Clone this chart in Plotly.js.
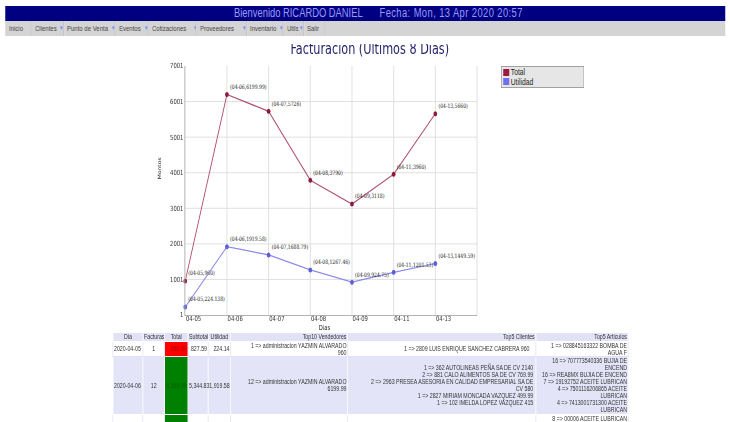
<!DOCTYPE html>
<html><head><meta charset="utf-8">
<script src="https://cdn.plot.ly/plotly-3.0.1.min.js"></script>
<style>
html,body{margin:0;padding:0;background:#fff;overflow:hidden;width:730px;height:422px;}
#wrap{position:absolute;left:0;top:0;width:974px;height:422px;transform:scaleX(0.75);transform-origin:0 0;font-family:"Liberation Sans",Arial,sans-serif;overflow:hidden;}
#navy{position:absolute;left:7px;top:6px;width:960px;height:14.5px;background:#000080;}
.hdr{position:absolute;top:6px;height:14.5px;line-height:14.5px;font-size:12.5px;color:#9a9aff;white-space:pre;}
#menu{position:absolute;left:7px;top:20.5px;width:960px;height:15px;background:#d4d4d4;}
.mi{position:absolute;top:0;height:15px;line-height:15px;font-size:8px;color:#444;white-space:nowrap;overflow:hidden;}
.ar{position:absolute;top:0;height:15px;line-height:15px;font-size:6px;color:#6f8fff;}
.sep{position:absolute;top:0;width:1px;height:15px;background:#b8b8b8;border-right:1px solid #ececec;}
#plot{position:absolute;left:0;top:44px;width:974px;height:378px;}
#leg{position:absolute;left:668px;top:66px;width:111px;height:22px;background:#e6e6e6;border:1px solid #a0a0a0;box-sizing:border-box;padding-top:1px;font-size:9px;line-height:9.6px;color:#222;}
#leg .li{height:9.6px;white-space:nowrap;}
#leg .sq{display:inline-block;width:8px;height:7px;margin:0 2px 0 2px;vertical-align:-0.5px;}
#tb{position:absolute;left:150px;top:332px;width:687px;table-layout:fixed;border-collapse:collapse;font-size:7px;line-height:7.1px;color:#333;}
#tb td,#tb th{padding:0 1px;overflow:visible;white-space:nowrap;font-weight:normal;vertical-align:middle;}
#tb tr.h th{background:#e2e2f6;height:7.5px;border:1px solid #fff;}
#tb tr.r1 td{background:#fff;height:13px;border:1px solid #e2e2f6;}
#tb tr.r2 td{background:#e4e4f8;height:57px;border:1px solid #fff;}
#tb tr.r3 td{background:#fff;height:20px;border:1px solid #e2e2f6;vertical-align:top;}
.c{text-align:center}.r{text-align:right}.l{text-align:left}
#tb td.red{background:#ff0000 !important;color:#b00000;}
#tb td.grn{background:#008000 !important;color:#005c00;}
</style>
</head><body>
<div id="wrap">
  <div id="navy"></div>
  <div class="hdr" style="left:312px">Bienvenido RICARDO DANIEL</div>
  <div class="hdr" style="left:506px;letter-spacing:0.55px">Fecha: Mon, 13 Apr 2020 20:57</div>
  <div id="menu"></div>
  <div id="plot"></div>
  <div id="leg">
    <div class="li"><span class="sq" style="background:#9b1b40"></span>Total</div>
    <div class="li"><span class="sq" style="background:#6f6fef"></span>Utilidad</div>
  </div>
  <table id="tb">
    <colgroup><col style="width:40px"><col style="width:29px"><col style="width:31px"><col style="width:27px"><col style="width:30px"><col style="width:156px"><col style="width:251px"><col style="width:123px"></colgroup>
    <tr class="h"><th class="c">Dia</th><th class="c">Facturas</th><th class="c">Total</th><th class="c">Subtotal</th><th class="c">Utilidad</th><th class="r">Top10 Vendedores</th><th class="r">Top5 Clientes</th><th class="r">Top5 Articulos</th></tr>
    <tr class="r1"><td class="l">2020-04-05</td><td class="c">1</td><td class="r red">960.00</td><td class="r">827.59</td><td class="r">224.14</td><td class="r">1 =&gt; administracion YAZMIN ALVARADO<br>960</td><td class="r" style="padding-right:8px">1 =&gt; 2809 LUIS ENRIQUE SANCHEZ CABRERA 960</td><td class="r">1 =&gt; 028845163322 BOMBA DE<br>AGUA F</td></tr>
    <tr class="r2"><td class="l">2020-04-06</td><td class="c">12</td><td class="r grn">6,199.99</td><td class="r">5,344.83</td><td class="r">1,919.58</td><td class="r">12 =&gt; administracion YAZMIN ALVARADO<br>6199.99</td><td class="r" style="padding-right:3px">1 =&gt; 362 AUTOLINEAS PEÑA SA DE CV 2140<br>2 =&gt; 881 CALO ALIMENTOS SA DE CV 769.99<br>2 =&gt; 2963 PRESEA ASESORIA EN CALIDAD EMPRESARIAL SA DE<br>CV 580<br>1 =&gt; 2827 MIRIAM MONCADA VAZQUEZ 499.99<br>1 =&gt; 102 IMELDA LOPEZ VAZQUEZ 415</td><td class="r">16 =&gt; 707773540336 BUJIA DE<br>ENCEND<br>16 =&gt; REA8MX BUJIA DE ENCEND<br>7 =&gt; 19192752 ACEITE LUBRICAN<br>4 =&gt; 7501116206865 ACEITE<br>LUBRICAN<br>4 =&gt; 7413001731300 ACEITE<br>LUBRICAN</td></tr>
    <tr class="r3"><td></td><td></td><td class="grn"></td><td></td><td></td><td></td><td></td><td class="r">8 =&gt; 00006 ACEITE LUBRICAN<br>4 =&gt; 037795151013 BUJIA NGK</td></tr>
  </table>
</div>
<script>
// ---- chart data ----
const dias = ['04-05', '04-06', '04-07', '04-08', '04-09', '04-11', '04-13'];
const total = [960, 6199.99, 5726, 3790, 3118, 3960, 5660];
const utilidad = [224.138, 1919.58, 1688.79, 1267.46, 924.75, 1201.53, 1449.59];
const serieNames = ['Total', 'Utilidad'];
const yTicks = [1, 1001, 2001, 3001, 4001, 5001, 6001, 7001];

// ---- menu ----
const menuItems = [
  ['Inicio', 12, null, 41.3], ['Clientes', 46.7, 78.7, 84], ['Punto de Venta', 89.3, 148, 153.3],
  ['Eventos', 158.7, 192, 197.3], ['Cotizaciones', 202.7, 257.3, 261.3], ['Proveedores', 266.7, 322.7, 328],
  ['Inventario', 333.3, 372, 377.3], ['Utils', 382.7, 398.7, 404], ['Salir', 409.3, null, 433.3]
];
const menu = document.getElementById('menu');
menuItems.forEach(function (m) {
  const off = 7;
  const t = document.createElement('div');
  t.className = 'mi'; t.textContent = m[0];
  t.style.left = (m[1] - off) + 'px';
  t.style.width = ((m[2] !== null ? m[2] : m[3]) - m[1] - 1) + 'px';
  menu.appendChild(t);
  if (m[2] !== null) {
    const a = document.createElement('div');
    a.className = 'ar'; a.textContent = '▼';
    a.style.left = (m[2] - off) + 'px';
    menu.appendChild(a);
  }
  const s = document.createElement('div');
  s.className = 'sep'; s.style.left = (m[3] - off) + 'px';
  menu.appendChild(s);
});

// ---- chart ----
const lbl = (arr) => dias.map((d, i) => '(' + d + ',' + arr[i] + ')');
const labelFont = {family: 'DejaVu Serif', size: 6, color: '#111'};
const traces = [
  {type: 'scatter', mode: 'lines+markers+text', name: serieNames[0], x: dias, y: total,
   text: lbl(total), textposition: 'top right', textfont: labelFont, cliponaxis: false,
   line: {color: '#b0506e', width: 1.2}, marker: {color: '#8c1a3e', size: 5}, showlegend: false, hoverinfo: 'none'},
  {type: 'scatter', mode: 'lines+markers+text', name: serieNames[1], x: dias, y: utilidad,
   text: lbl(utilidad), textposition: 'top right', textfont: labelFont, cliponaxis: false,
   line: {color: '#8a8ae8', width: 1.2}, marker: {color: '#5d5dd6', size: 5}, showlegend: false, hoverinfo: 'none'}
];
const tickFont = {family: 'DejaVu Sans', size: 7, color: '#333'};
const layout = {
  width: 974, height: 378,
  margin: {l: 247, r: 338, t: 22, b: 107, pad: 0},
  paper_bgcolor: 'rgba(0,0,0,0)', plot_bgcolor: '#ffffff',
  showlegend: false,
  title: {text: 'Facturacion (Ultimos 8 Dias)', font: {family: 'DejaVu Sans', size: 15, color: '#24246e'},
          x: 493 / 974, xref: 'container', xanchor: 'center', y: 1 - 4.75 / 378, yref: 'container', yanchor: 'middle'},
  xaxis: {type: 'category', categoryorder: 'array', categoryarray: dias, range: [0, 7],
          showgrid: true, gridcolor: '#dcdcdc', gridwidth: 1, showline: true, linecolor: '#a8a8a8', linewidth: 1,
          ticks: '', tickfont: tickFont, ticklabelshift: 11, ticklabelstandoff: -3, zeroline: false},
  yaxis: {range: [1, 7001], tickmode: 'array', tickvals: yTicks, ticktext: yTicks.map(String),
          showgrid: true, gridcolor: '#dcdcdc', gridwidth: 1, showline: true, linecolor: '#a8a8a8', linewidth: 1,
          ticks: '', tickfont: tickFont, zeroline: false},
  shapes: [{type: 'line', xref: 'paper', yref: 'paper', x0: 1, x1: 1, y0: 0, y1: 1, line: {color: '#dcdcdc', width: 1}}],
  annotations: [
    {text: 'Montos', xref: 'paper', yref: 'paper', x: -0.1036, y: 0.59, textangle: -90, showarrow: false,
     font: {family: 'DejaVu Sans', size: 6, color: '#222'}},
    {text: 'Dias', xref: 'paper', yref: 'paper', x: 0.479, y: -0.053, yanchor: 'middle', showarrow: false,
     font: {family: 'DejaVu Sans', size: 7, color: '#222'}}
  ]
};
Plotly.newPlot('plot', traces, layout, {displayModeBar: false, staticPlot: true});
</script>
</body></html>
